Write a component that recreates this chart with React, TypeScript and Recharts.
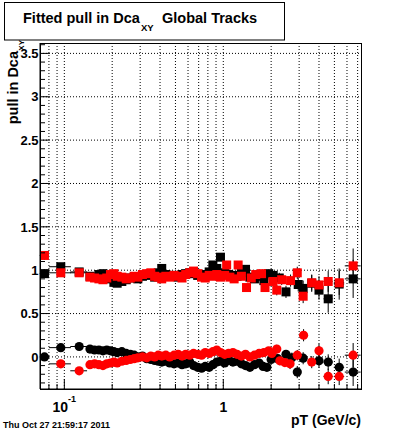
import { ScatterChart, Scatter, XAxis, YAxis, CartesianGrid, ErrorBar } from "recharts"

// [pT, value, error, half bin width]
type Pt = [number, number, number, number?]

const blackSigma: Pt[] = [
  [0.075, 0.96, 0.05, 0.005], [0.095, 1.04, 0.04, 0.015], [0.124, 0.98, 0.03, 0.015],
  [0.145, 0.93, 0.02], [0.155, 0.92, 0.02], [0.165, 0.95, 0.02], [0.175, 0.96, 0.02],
  [0.185, 0.92, 0.02], [0.195, 0.9, 0.02], [0.205, 0.86, 0.02], [0.215, 0.85, 0.02],
  [0.23, 0.87, 0.02], [0.245, 0.89, 0.02], [0.26, 0.91, 0.02], [0.275, 0.92, 0.02],
  [0.29, 0.9, 0.02], [0.31, 0.93, 0.02], [0.33, 0.94, 0.02], [0.35, 0.96, 0.02],
  [0.37, 0.92, 0.02], [0.39, 0.97, 0.02], [0.41, 1.02, 0.02], [0.435, 0.95, 0.02],
  [0.46, 0.93, 0.02], [0.49, 0.94, 0.02], [0.52, 0.92, 0.02], [0.55, 0.95, 0.02],
  [0.58, 0.96, 0.02], [0.615, 0.97, 0.02], [0.65, 0.96, 0.02], [0.69, 0.94, 0.02],
  [0.73, 0.93, 0.02], [0.77, 0.95, 0.02], [0.815, 0.98, 0.02], [0.86, 1.06, 0.02],
  [0.91, 1.02, 0.02], [0.96, 1.15, 0.03], [1.02, 0.97, 0.03], [1.08, 0.95, 0.03],
  [1.15, 0.94, 0.03], [1.22, 0.93, 0.03], [1.3, 0.97, 0.03], [1.38, 1.01, 0.03],
  [1.47, 0.92, 0.03], [1.57, 0.9, 0.03], [1.68, 0.93, 0.04], [1.8, 0.88, 0.04],
  [1.93, 0.96, 0.04], [2.06, 0.94, 0.05], [2.25, 0.91, 0.06], [2.48, 0.75, 0.07, 0.1],
  [2.96, 0.835, 0.08, 0.12], [3.18, 0.79, 0.09, 0.12], [3.6, 0.85, 0.1, 0.2],
  [4.0, 0.77, 0.11, 0.2], [4.57, 0.67, 0.16, 0.3], [5.36, 0.84, 0.18, 0.4], [6.56, 0.9, 0.22, 0.75],
]

const blackMean: Pt[] = [
  [0.075, 0.0, 0.03, 0.005], [0.095, 0.107, 0.03, 0.015], [0.124, 0.12, 0.03, 0.015],
  [0.145, 0.09, 0.02], [0.155, 0.08, 0.02], [0.165, 0.08, 0.02], [0.175, 0.07, 0.02],
  [0.185, 0.08, 0.02], [0.195, 0.07, 0.02], [0.205, 0.06, 0.02], [0.215, 0.05, 0.02],
  [0.23, 0.06, 0.02], [0.245, 0.04, 0.02], [0.26, 0.03, 0.02], [0.275, 0.02, 0.02],
  [0.29, 0.0, 0.02], [0.31, 0.01, 0.02], [0.33, -0.02, 0.02], [0.35, -0.03, 0.02],
  [0.37, -0.04, 0.02], [0.39, -0.05, 0.02], [0.41, -0.06, 0.02], [0.435, -0.05, 0.02],
  [0.46, -0.07, 0.02], [0.49, -0.08, 0.02], [0.52, -0.07, 0.02], [0.55, -0.09, 0.02],
  [0.58, -0.08, 0.02], [0.615, -0.06, 0.02], [0.65, -0.1, 0.02], [0.69, -0.12, 0.02],
  [0.73, -0.13, 0.02], [0.77, -0.11, 0.02], [0.815, -0.12, 0.02], [0.86, -0.09, 0.02],
  [0.91, -0.06, 0.02], [0.96, -0.05, 0.02], [1.02, -0.07, 0.02], [1.08, -0.04, 0.02],
  [1.15, -0.06, 0.02], [1.22, -0.05, 0.02], [1.3, -0.08, 0.03], [1.38, -0.1, 0.03],
  [1.47, -0.12, 0.03], [1.57, -0.09, 0.03], [1.68, -0.07, 0.03], [1.78, -0.11, 0.03],
  [1.88, -0.12, 0.03], [2.0, -0.03, 0.04], [2.2, -0.02, 0.05], [2.48, 0.03, 0.05],
  [2.7, -0.01, 0.06], [2.92, -0.175, 0.07, 0.1], [3.18, -0.015, 0.07, 0.12],
  [4.0, -0.045, 0.08, 0.2], [4.57, -0.06, 0.09, 0.3], [5.36, -0.12, 0.1, 0.4], [6.56, -0.175, 0.16, 0.75],
]

const redSigma: Pt[] = [
  [0.075, 1.17, 0.05, 0.005], [0.095, 0.97, 0.04, 0.015], [0.124, 0.97, 0.03, 0.015],
  [0.145, 0.92, 0.02], [0.155, 0.91, 0.02], [0.165, 0.9, 0.02], [0.175, 0.89, 0.02],
  [0.185, 0.91, 0.02], [0.195, 0.95, 0.02], [0.205, 0.96, 0.02], [0.215, 0.93, 0.02],
  [0.23, 0.92, 0.02], [0.245, 0.9, 0.02], [0.26, 0.91, 0.02], [0.275, 0.93, 0.02],
  [0.29, 0.92, 0.02], [0.31, 0.95, 0.02], [0.33, 0.96, 0.02], [0.35, 0.97, 0.02],
  [0.37, 0.93, 0.02], [0.39, 0.92, 0.02], [0.41, 0.9, 0.02], [0.435, 0.93, 0.02],
  [0.46, 0.92, 0.02], [0.49, 0.94, 0.02], [0.52, 0.93, 0.02], [0.55, 0.91, 0.02],
  [0.58, 0.95, 0.02], [0.615, 0.97, 0.02], [0.65, 0.99, 0.02], [0.69, 0.96, 0.02],
  [0.73, 0.92, 0.02], [0.77, 0.91, 0.02], [0.815, 0.94, 0.02], [0.86, 0.93, 0.02],
  [0.91, 0.95, 0.02], [0.96, 0.92, 0.02], [1.02, 0.94, 0.03], [1.05, 1.06, 0.03],
  [1.1, 0.92, 0.03], [1.17, 0.9, 0.03], [1.24, 1.06, 0.03], [1.3, 0.93, 0.03],
  [1.4, 0.8, 0.03], [1.5, 0.91, 0.03], [1.6, 0.95, 0.04], [1.74, 0.96, 0.04],
  [1.83, 0.8, 0.04], [2.05, 0.87, 0.05], [2.17, 0.77, 0.06], [2.33, 0.89, 0.06],
  [2.65, 0.88, 0.07], [2.92, 0.97, 0.07, 0.1], [3.18, 0.7, 0.08, 0.12], [3.6, 0.855, 0.09, 0.2],
  [4.0, 0.83, 0.1, 0.2], [4.57, 0.87, 0.12, 0.3], [5.36, 0.855, 0.14, 0.4], [6.56, 1.05, 0.2, 0.75],
]

const redMean: Pt[] = [
  [0.095, -0.08, 0.03, 0.015], [0.124, -0.16, 0.03, 0.015],
  [0.145, -0.09, 0.02], [0.155, -0.08, 0.02], [0.165, -0.09, 0.02], [0.175, -0.1, 0.02],
  [0.185, -0.08, 0.02], [0.195, -0.07, 0.02], [0.205, -0.06, 0.02], [0.215, -0.07, 0.02],
  [0.23, -0.05, 0.02], [0.245, -0.04, 0.02], [0.26, -0.03, 0.02], [0.275, -0.02, 0.02],
  [0.29, -0.01, 0.02], [0.31, 0.0, 0.02], [0.33, -0.01, 0.02], [0.35, 0.01, 0.02],
  [0.37, 0.0, 0.02], [0.39, 0.02, 0.02], [0.41, 0.01, 0.02], [0.435, 0.02, 0.02],
  [0.46, 0.0, 0.02], [0.49, 0.02, 0.02], [0.52, 0.03, 0.02], [0.55, 0.01, 0.02],
  [0.58, 0.03, 0.02], [0.615, 0.02, 0.02], [0.65, 0.04, 0.02], [0.69, 0.03, 0.02],
  [0.73, 0.02, 0.02], [0.77, 0.05, 0.02], [0.815, 0.04, 0.02], [0.86, 0.06, 0.02],
  [0.91, 0.08, 0.02], [0.96, 0.05, 0.02], [1.02, 0.03, 0.02], [1.08, 0.04, 0.02],
  [1.15, 0.05, 0.02], [1.22, 0.03, 0.02], [1.3, 0.01, 0.03], [1.38, 0.03, 0.03],
  [1.47, 0.0, 0.03], [1.57, 0.02, 0.03], [1.68, 0.04, 0.03], [1.8, 0.05, 0.03],
  [1.93, 0.07, 0.03], [2.02, 0.04, 0.04], [2.17, 0.09, 0.05], [2.27, -0.045, 0.05],
  [2.44, -0.065, 0.05], [2.63, -0.08, 0.06], [2.92, 0.02, 0.06, 0.1], [3.2, 0.25, 0.07, 0.12],
  [3.6, -0.06, 0.07, 0.2], [4.0, 0.07, 0.08, 0.2], [4.57, -0.225, 0.09, 0.3],
  [5.36, -0.225, 0.1, 0.4], [6.56, 0.02, 0.14, 0.75],
]

const xTicks = [0.08, 0.09, 0.1, 0.2, 0.3, 0.4, 0.5, 0.6, 0.7, 0.8, 0.9, 1, 2, 3, 4, 5, 6, 7]
const yMajor = [0, 0.5, 1, 1.5, 2, 2.5, 3, 3.5]
const yTicks = Array.from({ length: 40 }, (_, i) => Math.round(-3 + i) / 10)

const PLOT_LEFT = 40
const PLOT_TOP = 43
const PLOT_RIGHT = 361
const PLOT_BOTTOM = 389
const FONT = "'Liberation Sans', Arial, Helvetica, sans-serif"

const rows = (pts: Pt[]) => pts.map(([pt, val, err, ex]) => ({ pt, val, err, ex: ex ?? 0 }))

const square = (color: string) => (p: any) =>
  <rect x={p.cx - 4.5} y={p.cy - 4.5} width={9} height={9} fill={color} />
const dot = (color: string) => (p: any) =>
  <circle cx={p.cx} cy={p.cy} r={4.6} fill={color} />

function XTick(props: any) {
  const v = props.payload.value
  const x = props.payload.coordinate
  const major = v === 0.1 || v === 1
  return (
    <g>
      <line x1={x} x2={x} y1={PLOT_BOTTOM} y2={PLOT_BOTTOM - (major ? 10 : 5)} stroke="#000" />
      {v === 0.1 && (
        <text x={x} y={411.5} textAnchor="middle" fontFamily={FONT} fontWeight="bold" fontSize={14} fill="#000">
          <tspan>10</tspan>
          <tspan dy={-10} fontSize={9}>-1</tspan>
        </text>
      )}
      {v === 1 && (
        <text x={x} y={411.5} textAnchor="middle" fontFamily={FONT} fontWeight="bold" fontSize={14} fill="#000">1</text>
      )}
    </g>
  )
}

function YTick(props: any) {
  const v = props.payload.value
  const y = props.payload.coordinate
  const major = yMajor.includes(v)
  return (
    <g>
      <line x1={PLOT_LEFT} x2={PLOT_LEFT + (major ? 9 : 5)} y1={y} y2={y} stroke="#000" />
      {major && (
        <text x={38.5} y={y + 4.7} textAnchor="end" fontFamily={FONT} fontWeight="bold" fontSize={13} fill="#000">
          {v}
        </text>
      )}
    </g>
  )
}

export default function App() {
  const series = [
    { data: rows(blackSigma), shape: square("#000") },
    { data: rows(blackMean), shape: dot("#000") },
    { data: rows(redSigma), shape: square("#ff0000") },
    { data: rows(redMean), shape: dot("#ff0000") },
  ]

  return (
    <div style={{ position: "absolute", left: 0, top: 0, width: 400, height: 433, background: "#fff" }}>
      <ScatterChart width={400} height={433} margin={{ top: PLOT_TOP, right: 400 - PLOT_RIGHT, bottom: 0, left: 0 }}>
        <CartesianGrid stroke="#000" strokeDasharray="1 2" horizontalValues={yMajor} verticalValues={xTicks} />
        <XAxis
          dataKey="pt" type="number" scale="log" domain={[0.0703, 7.35]} allowDataOverflow
          ticks={xTicks} interval={0} height={433 - PLOT_BOTTOM - 0}
          axisLine={{ stroke: "#000" }} tickLine={false} tick={XTick}
        />
        <YAxis
          dataKey="val" type="number" domain={[-0.37, 3.62]} allowDataOverflow
          ticks={yTicks} interval={0} width={PLOT_LEFT}
          axisLine={{ stroke: "#000" }} tickLine={false} tick={YTick}
        />
        {series.map((s, i) => (
          <Scatter key={i} data={s.data} shape={s.shape} isAnimationActive={false}>
            <ErrorBar dataKey="err" direction="y" width={0} stroke="#000" strokeWidth={1} isAnimationActive={false} />
            <ErrorBar dataKey="ex" direction="x" width={0} stroke="#000" strokeWidth={1} isAnimationActive={false} />
          </Scatter>
        ))}
      </ScatterChart>

      <svg width={400} height={433} style={{ position: "absolute", left: 0, top: 0, pointerEvents: "none" }}
        fontFamily={FONT} fontWeight="bold">
        <rect x={PLOT_LEFT + 0.5} y={PLOT_TOP + 0.5} width={PLOT_RIGHT - PLOT_LEFT} height={PLOT_BOTTOM - PLOT_TOP}
          fill="none" stroke="#000" />
        <rect x={4.5} y={2.5} width={280} height={37.5} fill="#fff" stroke="#000" />
        <text x={23} y={22.7} fontSize={14.5}>Fitted pull in Dca</text>
        <text x={141} y={30.7} fontSize={9.5}>XY</text>
        <text x={162} y={22.7} fontSize={14.5}>Global Tracks</text>

        <text transform="translate(18,51) rotate(-90)" textAnchor="end" fontSize={14.5}>pull in Dca</text>
        <text transform="translate(24,40) rotate(-90)" textAnchor="end" fontSize={8}>XY</text>

        <text x={361} y={425} textAnchor="end" fontSize={14}>pT (GeV/c)</text>
        <text x={3} y={427.5} fontSize={9}>Thu Oct 27 21:59:17 2011</text>
      </svg>
    </div>
  )
}
